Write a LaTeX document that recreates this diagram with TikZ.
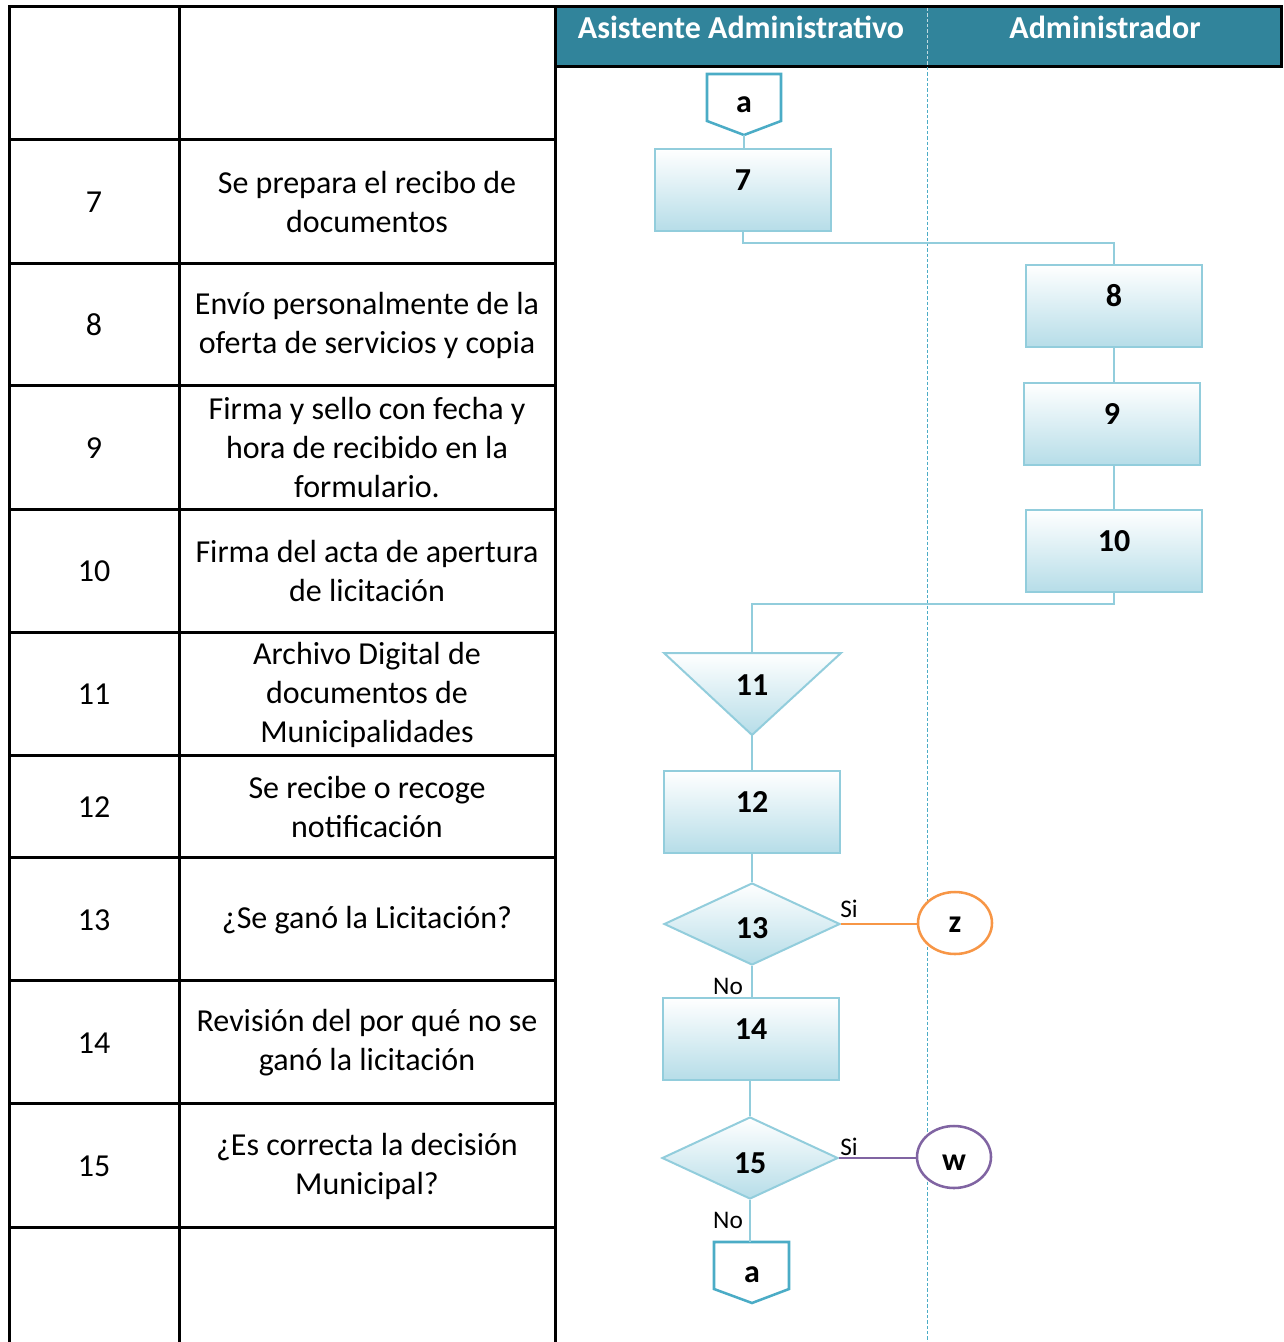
\documentclass[tikz,border=0pt]{standalone}
\usepackage{fontspec}
\setmainfont{Carlito}
\usetikzlibrary{shapes.geometric}
\definecolor{hdr}{HTML}{31849B}
\definecolor{lnk}{HTML}{92CDDC}
\definecolor{boxbot}{HTML}{B6DDE8}
\definecolor{cnbl}{HTML}{4BACC6}
\definecolor{orn}{HTML}{F79646}
\definecolor{prp}{HTML}{8064A2}
\begin{document}
\begin{tikzpicture}[x=0.75pt,y=-0.75pt,
  tbl/.style={line width=2.25pt,black},
  cell/.style={font=\fontsize{24}{29.25}\selectfont, align=center, inner sep=0pt},
  hdrtxt/.style={font=\bfseries\fontsize{24}{28}\selectfont, text=white, anchor=base},
  procbox/.style={draw=lnk, line width=1.5pt, top color=white, bottom color=boxbot,
    minimum width=132pt, minimum height=61.5pt, inner sep=0pt,
    font=\bfseries\fontsize{24}{28}\selectfont, text height=0.62em, text depth=0.62em},
  decis/.style={diamond, draw=lnk, line width=1.5pt, top color=white, bottom color=boxbot,
    minimum width=132pt, minimum height=61.5pt, inner sep=0pt},
  conn/.style={draw=lnk, line width=1.9pt},
  offpg/.style={draw=cnbl, line width=1.9pt, fill=white, line join=miter},
  lbl/.style={font=\bfseries\fontsize{24}{28}\selectfont, anchor=base, inner sep=0pt},
  small/.style={font=\fontsize{19}{23}\selectfont, inner sep=0pt},
  endc/.style={ellipse, line width=1.9pt, fill=white, minimum width=55.5pt, minimum height=46.5pt, inner sep=0pt}
]
\useasboundingbox (0,0) rectangle (1283,1342);
% header
\fill[hdr] (555,6) rectangle (1283,66);
\draw[tbl] (555,6) -- (1283,6);
\draw[tbl] (555,66) -- (1283,66);
\draw[tbl] (1281,6) -- (1281,66);
\node[hdrtxt] (h1) at (741,38) {Asistente Administrativo};
\node[hdrtxt] (h2) at (1105,38) {Administrador};
% lane divider
\draw[white!70!hdr, line width=0.7pt, dash pattern=on 2.5pt off 1.5pt] (927,8) -- (927,65);
\draw[cnbl, line width=0.7pt, dash pattern=on 2.5pt off 1.5pt] (927,67) -- (927,1342);
% table
\draw[tbl] (9,1342) -- (9,6) -- (555,6);
\draw[tbl] (179,6) -- (179,1342);
\draw[tbl] (555,6) -- (555,1342);
\foreach \yy in {139,263,385,509,632,755,857,980,1103,1227} {
  \draw[tbl] (9,\yy) -- (555,\yy);
}
% table texts
\node[cell] (n7) at (94,202) {7};
\node[cell] (t7) at (367,202) {Se prepara el recibo de\\documentos};
\node[cell] (n8) at (94,325) {8};
\node[cell] (t8) at (367,325) {Envío personalmente de la\\oferta de servicios y copia};
\node[cell] (n9) at (94,448) {9};
\node[cell] (t9) at (367,448) {Firma y sello con fecha y\\hora de recibido en la\\formulario.};
\node[cell] (n10) at (94,571.5) {10};
\node[cell] (t10) at (367,571.5) {Firma del acta de apertura\\de licitación};
\node[cell] (n11) at (94,694.5) {11};
\node[cell] (t11) at (367,694.5) {Archivo Digital de\\documentos de\\Municipalidades};
\node[cell] (n12) at (94,807) {12};
\node[cell] (t12) at (367,807) {Se recibe o recoge\\notificación};
\node[cell] (n13) at (94,920) {13};
\node[cell] (t13) at (367,920) {¿Se ganó la Licitación?};
\node[cell] (n14) at (94,1043) {14};
\node[cell] (t14) at (367,1043) {Revisión del por qué no se\\ganó la licitación};
\node[cell] (n15) at (94,1166) {15};
\node[cell] (t15) at (367,1166) {¿Es correcta la decisión\\Municipal?};
% flow shapes
\draw[offpg] (707,74) -- (781,74) -- (781,121) -- (744,135) -- (707,121) -- cycle;
\coordinate (catip) at (744,135);
\node[lbl] (ca) at (744,112) {a};
\node[procbox] (b7) at (743,190) {7};
\node[procbox] (b8) at (1114,306) {8};
\node[procbox] (b9) at (1112,424) {9};
\node[procbox] (b10) at (1114,551) {10};
\shade[top color=white, bottom color=boxbot] (664,653) -- (841,653) -- (752,735) -- cycle;
\draw[lnk, line width=1.5pt, line join=miter] (664,653) -- (841,653) -- (752,735) -- cycle;
\coordinate (tri11top) at (752,653);
\coordinate (tri11apex) at (752,735);
\node[lbl] (l11) at (752,695) {11};
\node[procbox] (b12) at (752,812) {12};
\node[decis] (d13) at (752,924) {};
\node[lbl] (l13) at (752,938) {13};
\node[procbox] (b14) at (751,1039) {14};
\node[decis] (d15) at (750,1158) {};
\node[lbl] (l15) at (750,1173) {15};
\node[endc, draw=orn] (z) at (955,923) {};
\node[lbl] (lz) at (955,932) {z};
\node[endc, draw=prp] (w) at (954,1157) {};
\node[lbl] (lw) at (954,1170) {w};
\draw[offpg] (714,1242) -- (789,1242) -- (789,1289) -- (752,1303) -- (714,1289) -- cycle;
\coordinate (cbtop) at (752,1242);
\node[lbl] (cb) at (752,1282) {a};
% connectors
\draw[conn] (catip) -- (b7.north -| catip);
\draw[conn] (b7.south) -- ++(0,11) -| (b8.north);
\draw[conn] (b8.south) -- (b8.south |- b9.north);
\draw[conn] (b9.south -| b8.south) -- (b8.south |- b10.north);
\draw[conn] (b10.south) -- ++(0,11) -| (tri11top);
\draw[conn] (tri11apex) -- (b12.north);
\draw[conn] (b12.south) -- (d13.north);
\draw[conn] (d13.south) -- (d13.south |- b14.north);
\draw[conn] (b14.south -| d15.north) -- (d15.north);
\draw[conn] (d15.south) -- (d15.south |- cbtop);
\draw[orn, line width=2.1pt] (d13.east) -- (d13.east -| z.west);
\draw[prp, line width=2.1pt] (d15.east) -- (d15.east -| w.west);
\node[small] (si1) at (849,909) {Si};
\node[small] (no1) at (728,986) {No};
\node[small] (si2) at (849,1147) {Si};
\node[small] (no2) at (728,1220) {No};
\end{tikzpicture}
\end{document}
